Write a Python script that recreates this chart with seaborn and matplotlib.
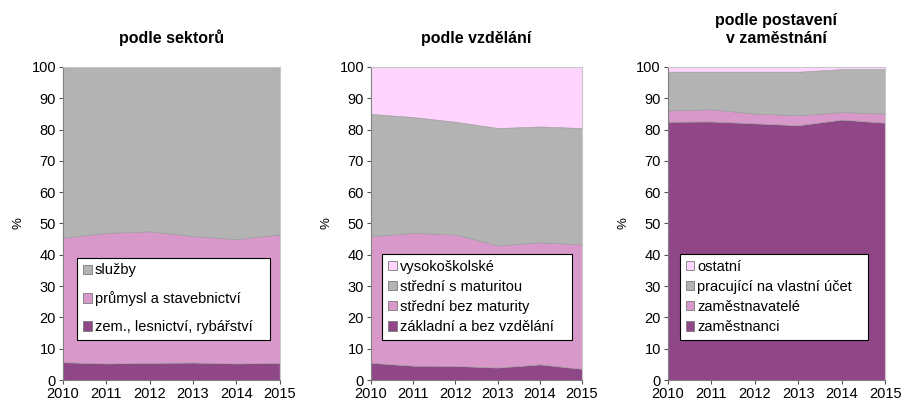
import matplotlib
matplotlib.use("Agg")
import matplotlib.pyplot as plt
import seaborn as sns
from matplotlib.patches import Patch

sns.set_theme(style="ticks")
plt.rcParams['font.family'] = ['Liberation Sans', 'DejaVu Sans']
plt.rcParams['text.color'] = 'black'
plt.rcParams['axes.labelcolor'] = 'black'

years = [2010, 2011, 2012, 2013, 2014, 2015]

# podle sektorů
zemedelstvi = [5.7, 5.3, 5.5, 5.6, 5.3, 5.5]
prumysl = [39.8, 41.7, 42.0, 40.4, 39.7, 41.0]
sluzby = [54.5, 53.0, 52.5, 54.0, 55.0, 53.5]

# podle vzdělání
zakladni = [5.5, 4.6, 4.5, 4.0, 5.0, 3.6]
bez_maturity = [40.5, 42.4, 42.0, 39.0, 39.0, 39.7]
s_maturitou = [39.0, 37.0, 36.0, 37.5, 37.0, 37.2]
vysokoskolske = [15.0, 16.0, 17.5, 19.5, 19.0, 19.5]

# podle postavení v zaměstnání
zamestnanci = [82.5, 82.6, 82.0, 81.4, 83.2, 82.2]
zamestnavatele = [3.6, 3.9, 3.1, 3.2, 2.4, 2.9]
vlastni_ucet = [12.4, 12.0, 13.4, 13.9, 13.7, 14.2]
ostatni = [1.5, 1.5, 1.5, 1.5, 0.7, 0.7]

c_dark = '#8F4787'
c_pink = '#D898CA'
c_gray = '#B3B3B3'
c_light = '#FFD5FF'

panels = [
    dict(title='podle sektorů',
         series=[zemedelstvi, prumysl, sluzby],
         labels=['zem., lesnictví, rybářství', 'průmysl a stavebnictví', 'služby'],
         colors=[c_dark, c_pink, c_gray],
         pos=[0.0696, 0.0617, 0.2394, 0.773],
         leg=(0.065, 0.128, 0.889, 0.297), spacing=0.95),
    dict(title='podle vzdělání',
         series=[zakladni, bez_maturity, s_maturitou, vysokoskolske],
         labels=['základní a bez vzdělání', 'střední bez maturity', 'střední s maturitou', 'vysokoškolské'],
         colors=[c_dark, c_pink, c_gray, c_light],
         pos=[0.41, 0.0617, 0.233, 0.773],
         leg=(0.052, 0.128, 0.901, 0.297), spacing=0.42),
    dict(title='podle postavení\nv zaměstnání',
         series=[zamestnanci, zamestnavatele, vlastni_ucet, ostatni],
         labels=['zaměstnanci', 'zaměstnavatelé', 'pracující na vlastní účet', 'ostatní'],
         colors=[c_dark, c_pink, c_gray, c_light],
         pos=[0.738, 0.0617, 0.24, 0.773],
         leg=(0.055, 0.128, 0.865, 0.297), spacing=0.42),
]

fig = plt.figure(figsize=(9.05, 4.05), dpi=100)

for p in panels:
    ax = fig.add_axes(p['pos'])
    ax.stackplot(years, *p['series'], colors=p['colors'],
                 edgecolor='#9a9a9a', linewidth=0.4)
    ax.set_xlim(2010, 2015)
    ax.set_ylim(0, 100)
    ax.set_xticks(years)
    ax.set_yticks(range(0, 101, 10))
    ax.tick_params(axis='both', labelsize=10.5, length=3, width=0.8,
                   colors='#555555', labelcolor='black', pad=2)
    ax.set_ylabel('%', fontsize=9.5, labelpad=5, color='black')
    ax.set_title(p['title'], fontsize=11.5, fontweight='bold', pad=17,
                 linespacing=1.3, color='black')
    for side in ['top', 'right']:
        ax.spines[side].set_color('#c8c8c8')
        ax.spines[side].set_linewidth(0.8)
    for side in ['left', 'bottom']:
        ax.spines[side].set_color('#808080')
        ax.spines[side].set_linewidth(0.8)

    handles = [Patch(facecolor=c, edgecolor='#7a7a7a', linewidth=0.6)
               for c in p['colors']][::-1]
    leg = ax.legend(handles, p['labels'][::-1], loc='lower left',
                    bbox_to_anchor=p['leg'], mode='expand', fontsize=10.5,
                    frameon=True, fancybox=False, borderaxespad=0,
                    handlelength=0.6, handleheight=0.6, handletextpad=0.2,
                    labelspacing=p['spacing'], borderpad=0.4)
    leg.get_frame().set_edgecolor('black')
    leg.get_frame().set_linewidth(0.8)
    leg.get_frame().set_facecolor('white')
    leg.get_frame().set_alpha(1)
    for t in leg.get_texts():
        t.set_color('black')

fig.savefig('out.png', dpi=100)
